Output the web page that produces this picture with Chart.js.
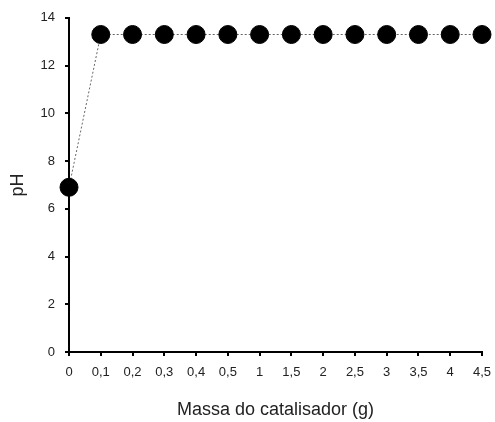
<!DOCTYPE html>
<html>
<head>
<meta charset="utf-8">
<script src="https://cdn.jsdelivr.net/npm/chart.js@4"></script>
<style>
  body { margin: 0; background: #fff; }
  #wrap { width: 495px; height: 422px; }
</style>
</head>
<body>
<div id="wrap"><canvas id="chart"></canvas></div>
<script>
const massa = ["0", "0,1", "0,2", "0,3", "0,4", "0,5", "1", "1,5", "2", "2,5", "3", "3,5", "4", "4,5"];
const ph = [6.9, 13.3, 13.3, 13.3, 13.3, 13.3, 13.3, 13.3, 13.3, 13.3, 13.3, 13.3, 13.3, 13.3];

const font = { family: "'Liberation Sans', Arial, sans-serif", size: 13 };

new Chart(document.getElementById("chart"), {
  type: "line",
  data: {
    labels: massa,
    datasets: [{
      data: ph,
      borderColor: "#666",
      borderWidth: 1,
      borderDash: [2, 2],
      pointRadius: 9,
      pointBackgroundColor: "#000",
      pointBorderColor: "#000",
      tension: 0
    }]
  },
  options: {
    responsive: true,
    maintainAspectRatio: false,
    animation: false,
    layout: { padding: { top: 17, right: 13, left: 0, bottom: 0 } },
    plugins: { legend: { display: false }, tooltip: { enabled: false } },
    scales: {
      x: {
        grid: { drawOnChartArea: false, tickLength: 4, color: "#000", lineWidth: 2 },
        border: { color: "#000", width: 2 },
        ticks: { color: "#222", font: font, padding: 9, maxRotation: 0, autoSkip: false },
        title: { display: true, text: "Massa do catalisador (g)", color: "#222", font: { family: font.family, size: 18 }, padding: { top: 4, bottom: 1 } },
        afterFit: s => { s.height = 70; s.paddingRight = 0; }
      },
      y: {
        min: 0,
        max: 14,
        grid: { drawOnChartArea: false, tickLength: 4, color: "#000", lineWidth: 2 },
        border: { color: "#000", width: 2 },
        ticks: { stepSize: 2, color: "#222", font: font, padding: 10 },
        title: { display: true, text: "pH", color: "#222", font: { family: font.family, size: 18 }, padding: { top: 7 } },
        afterFit: s => { s.width = 69; }
      }
    }
  }
});
</script>
</body>
</html>
